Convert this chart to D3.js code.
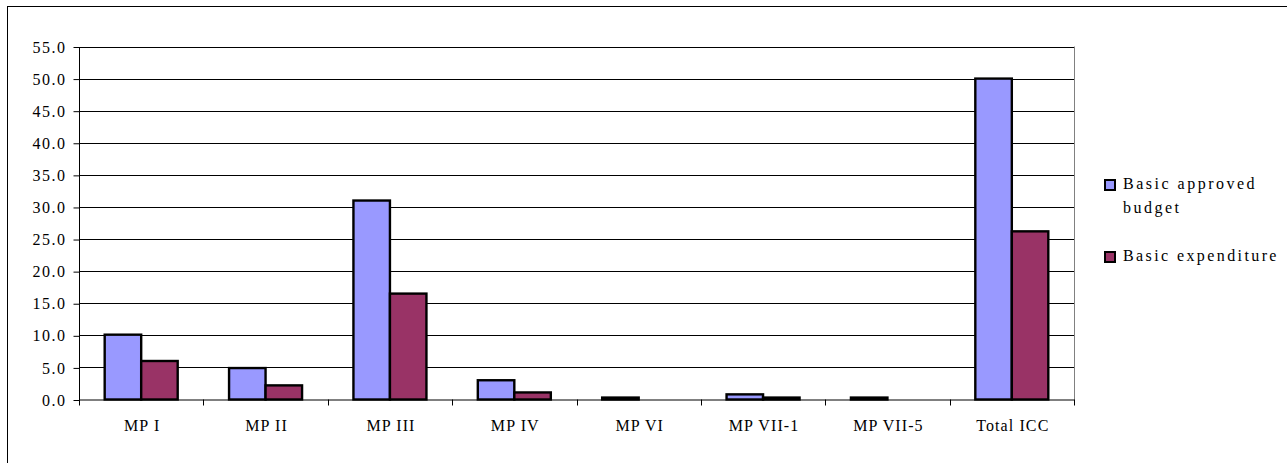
<!DOCTYPE html>
<html><head><meta charset="utf-8">
<script src="https://cdn.jsdelivr.net/npm/d3@7/dist/d3.min.js"></script>
<style>
body{margin:0;background:#fff;}
text{font-family:"Liberation Serif","Times New Roman",serif;fill:#000;}
</style></head>
<body><svg id="c" width="1287" height="463"></svg>
<script>
const categories = ["MP I","MP II","MP III","MP IV","MP VI","MP VII-1","MP VII-5","Total ICC"];
const budget = [10.1, 4.9, 31.0, 3.0, 0.3, 0.8, 0.3, 50.0];
const expenditure = [6.0, 2.2, 16.5, 1.1, 0, 0.3, 0, 26.2];
const seriesNames = ["Basic approved budget","Basic expenditure"];
const yTicks = [0,5,10,15,20,25,30,35,40,45,50,55];
const colors = ["#9999FF","#993366"];

const svg = d3.select("#c");
const m = {left:79, right:1074, top:46.5, bottom:399.5};

svg.append("rect").attr("x",7.5).attr("y",6.5).attr("width",1300).attr("height",480)
  .attr("fill","#fff").attr("stroke","#000").attr("stroke-width",1);

const x = d3.scaleBand().domain(categories).range([m.left,m.right]);
const y = d3.scaleLinear().domain([0,55]).range([m.bottom,m.top]);
const inner = d3.scaleBand().domain([0,1]).range([0,73]);

svg.append("line").attr("x1",m.right+0.5).attr("x2",m.right+0.5).attr("y1",m.top).attr("y2",m.bottom+5)
  .attr("stroke","#808080");

svg.append("g").selectAll("line").data(yTicks.filter(d=>d>0)).join("line")
  .attr("x1",m.left).attr("x2",m.right)
  .attr("y1",d=>Math.round(y(d))+0.5).attr("y2",d=>Math.round(y(d))+0.5)
  .attr("stroke","#000").attr("stroke-width",1);

const yAxis = d3.axisLeft(y).tickValues(yTicks).tickFormat(d3.format(".1f")).tickSize(6).tickPadding(7);
const gy = svg.append("g").attr("transform",`translate(${m.left+0.5},0.5)`).call(yAxis);
gy.attr("font-size",null).attr("font-family",null);
gy.select(".domain").attr("stroke","#000").attr("d",`M0,${m.top}V${m.bottom}`);
gy.selectAll(".tick line").attr("stroke","#000");
gy.selectAll(".tick text").style("font-size","16px").style("letter-spacing","1.5px")
  .style("font-family","'Liberation Serif', serif").attr("fill","#000");

svg.append("line").attr("x1",m.left).attr("x2",m.right).attr("y1",m.bottom+0.5).attr("y2",m.bottom+0.5).attr("stroke","#000");
const bounds = categories.map(c=>x(c)).concat([m.right]);
svg.append("g").selectAll("line").data(bounds).join("line")
  .attr("x1",d=>Math.round(d)+0.5).attr("x2",d=>Math.round(d)+0.5)
  .attr("y1",m.bottom).attr("y2",m.bottom+6).attr("stroke","#000");

const data = [budget, expenditure];
categories.forEach((c,i)=>{
  const g0 = x(c) + (x.bandwidth()-73)/2;
  data.forEach((s,k)=>{
    if (s[i] <= 0) return;
    svg.append("rect")
      .attr("x", g0 + inner(k))
      .attr("y", y(s[i]))
      .attr("width", inner.bandwidth())
      .attr("height", y(0)-y(s[i]))
      .attr("fill", colors[k]).attr("stroke","#000").attr("stroke-width",2.4);
  });
});

svg.append("g").selectAll("text").data(categories).join("text")
  .attr("x",d=>x(d)+x.bandwidth()/2+1).attr("y",431)
  .attr("text-anchor","middle").style("font-size","16px").style("letter-spacing","1.1px")
  .text(d=>d);

const leg = svg.append("g");
const legY = [180, 252];
leg.append("rect").attr("x",1105).attr("y",legY[0]).attr("width",10).attr("height",10)
  .attr("fill",colors[0]).attr("stroke","#000").attr("stroke-width",2);
leg.append("rect").attr("x",1105).attr("y",legY[1]).attr("width",10).attr("height",10)
  .attr("fill",colors[1]).attr("stroke","#000").attr("stroke-width",2);
const t1 = leg.append("text").attr("x",1123).attr("y",188.5).style("font-size","16px").style("letter-spacing","2.5px");
t1.append("tspan").attr("x",1123).text("Basic approved");
t1.append("tspan").attr("x",1123).attr("y",212.5).text("budget");
leg.append("text").attr("x",1123).attr("y",260.5).style("font-size","16px").style("letter-spacing","2.4px")
  .text(seriesNames[1]);
</script></body></html>
